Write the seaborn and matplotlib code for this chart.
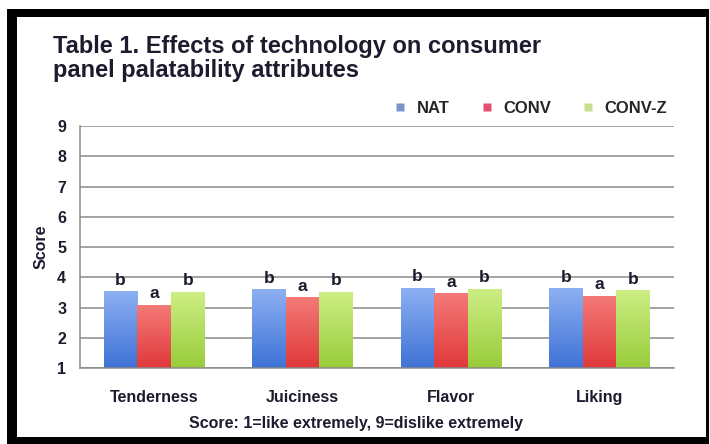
#!/usr/bin/env python3

import numpy as np
import pandas as pd
import matplotlib
matplotlib.use('Agg')
import matplotlib.pyplot as plt
import seaborn as sns
from matplotlib.colors import LinearSegmentedColormap
from matplotlib.patches import Rectangle
from matplotlib.lines import Line2D

# Data
attributes = ['Tenderness', 'Juiciness', 'Flavor', 'Liking']
treatments = ['NAT', 'CONV', 'CONV-Z']
nat_scores = [3.52, 3.58, 3.63, 3.62]
conv_scores = [3.08, 3.32, 3.46, 3.38]
convz_scores = [3.50, 3.50, 3.60, 3.55]
nat_letters = ['b', 'b', 'b', 'b']
conv_letters = ['a', 'a', 'a', 'a']
convz_letters = ['b', 'b', 'b', 'b']
y_ticks = [1, 2, 3, 4, 5, 6, 7, 8, 9]

# Bar gradient colours (top, bottom) and legend swatch colours
GRADIENTS = {
    'NAT': ('#8db0f2', '#3e72d6'),
    'CONV': ('#f47a78', '#e0383a'),
    'CONV-Z': ('#cdee84', '#98cc3a'),
}
SWATCH = {'NAT': '#7b93cc', 'CONV': '#e2506e', 'CONV-Z': '#c9dd92'}

TEXT_COLOR = '#1c1c2e'
GRID_COLOR = '#8a8a8a'
Y_MIN, Y_MAX = 1, 9


def build_frame():
    """Long-form table for seaborn"""
    rows = []
    for name, values in zip(treatments, [nat_scores, conv_scores, convz_scores]):
        for attr, v in zip(attributes, values):
            rows.append({'attribute': attr, 'treatment': name, 'score': v})
    return pd.DataFrame(rows)


def gradient_fill(ax, patch, top, bottom):
    """Replace a flat bar with a vertical gradient (from the axis floor to the bar top)"""
    cmap = LinearSegmentedColormap.from_list('g', [bottom, top])
    x0, w, h = patch.get_x(), patch.get_width(), patch.get_height()
    grad = np.linspace(0, 1, 256).reshape(-1, 1)
    ax.imshow(grad, cmap=cmap, aspect='auto', origin='lower',
              extent=(x0, x0 + w, Y_MIN, h), zorder=2, interpolation='bicubic')
    patch.set_visible(False)


def main():
    df = build_frame()

    sns.set_style('white')
    plt.rcParams['font.family'] = ['Liberation Sans', 'DejaVu Sans']

    fig = plt.figure(figsize=(7.10, 4.44), dpi=100)
    fig.patch.set_facecolor('white')
    ax = fig.add_axes([0.1127, 0.171, 0.836, 0.545])

    sns.barplot(data=df, x='attribute', y='score', hue='treatment',
                order=attributes, hue_order=treatments,
                palette=[SWATCH[t] for t in treatments],
                width=0.68, gap=0, saturation=1, legend=False, ax=ax)

    letters = [nat_letters, conv_letters, convz_letters]
    for container, name, labels in zip(ax.containers, treatments, letters):
        top, bottom = GRADIENTS[name]
        for bar, lab in zip(container, labels):
            gradient_fill(ax, bar, top, bottom)
            ax.annotate(lab, (bar.get_x() + bar.get_width() / 2, bar.get_height()),
                        xytext=(0, 3), textcoords='offset points',
                        ha='center', va='bottom', fontsize=12.5, fontweight='bold',
                        color=TEXT_COLOR)

    ax.set_xlim(-0.5, len(attributes) - 0.5)
    ax.set_ylim(Y_MIN, Y_MAX)
    ax.set_yticks(y_ticks)
    ax.yaxis.grid(True, color=GRID_COLOR, linewidth=1.1)
    ax.set_axisbelow(True)

    # category separator ticks along the bottom
    ax.set_xticks(range(len(attributes)))
    ax.set_xticklabels(attributes)
    ax.set_xticks(np.arange(-0.5, len(attributes)), minor=True)
    ax.tick_params(axis='x', which='minor', length=6, width=1, color=GRID_COLOR, direction='out')
    ax.tick_params(axis='x', which='major', length=0, pad=16)
    ax.tick_params(axis='y', length=7, width=1, color=GRID_COLOR, direction='out', pad=3)

    for side in ['top', 'right']:
        ax.spines[side].set_visible(False)
    for side in ['left', 'bottom']:
        ax.spines[side].set_color(GRID_COLOR)
        ax.spines[side].set_linewidth(1.1)

    for lab in ax.get_xticklabels() + ax.get_yticklabels():
        lab.set_fontweight('bold')
        lab.set_fontsize(11.5)
        lab.set_color(TEXT_COLOR)

    ax.set_xlabel('Score: 1=like extremely, 9=dislike extremely',
                  fontsize=11.5, fontweight='bold', color=TEXT_COLOR)
    ax.xaxis.set_label_coords(0.465, -0.2)
    ax.set_ylabel('Score', fontsize=11.5, fontweight='bold', color=TEXT_COLOR, labelpad=6)

    # legend with small square swatches
    handles = [Line2D([], [], marker='s', linestyle='none', markersize=6,
                      markerfacecolor=SWATCH[t], markeredgecolor='none') for t in treatments]
    fig.legend(handles, treatments, ncol=3, frameon=False, loc='center',
               bbox_to_anchor=(0.74, 0.755), handletextpad=0.0, columnspacing=1.2,
               prop={'weight': 'bold', 'size': 12})

    # title
    fig.text(0.074, 0.922, 'Table 1. Effects of technology on consumer\npanel palatability attributes',
             ha='left', va='top', fontsize=17, fontweight='bold',
             linespacing=1.1, color=TEXT_COLOR)

    # black frame round the chart
    W, H = 710, 444
    def frame(x, y, w, h):
        fig.patches.append(Rectangle((x / W, 1 - (y + h) / H), w / W, h / H,
                                     transform=fig.transFigure, facecolor='black',
                                     edgecolor='none', zorder=10))
    frame(7, 9, 702, 8)      # top
    frame(7, 9, 10, 435)     # left
    frame(7, 437, 702, 7)    # bottom
    frame(706, 9, 3, 435)    # right

    fig.savefig('out.png', dpi=100, facecolor='white')
    plt.close(fig)


if __name__ == '__main__':
    main()
